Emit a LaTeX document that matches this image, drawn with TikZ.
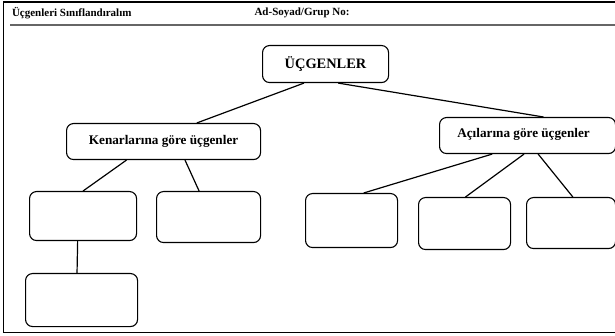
\documentclass[tikz,border=0pt]{standalone}
\usepackage{fontspec}
\setmainfont{Liberation Serif}
\usetikzlibrary{calc}
\begin{document}
\begin{tikzpicture}[x=1pt,y=-1pt,
  box/.style={draw=black, line width=1.1pt, rounded corners=7pt, fill=white,
    inner sep=0pt, anchor=north west},
  link/.style={draw=black, line width=1.2pt},
  lbl/.style={font=\bfseries\fontsize{13.2}{15}\selectfont},
  hdr/.style={anchor=west, font=\bfseries\fontsize{11}{13}\selectfont}]
\useasboundingbox (0,0) rectangle (615,336);
% outer frame (open on the right) and header rule
\draw[line width=1.8pt] (617,2) -- (3.5,2) -- (3.5,332.5) -- (617,332.5);
\draw[line width=1.8pt, gray!80!black] (10,25) -- (617,25);
\node[hdr] (hdr1) at (8.5,13) {Üçgenleri Sınıflandıralım};
\node[hdr] (hdr2) at (251,13) {Ad-Soyad/Grup No:};

% boxes: position is the north-west corner, size in pixels
\node[box, minimum width=126pt, minimum height=37pt] (root) at (262,45) {};
\node[lbl, font=\bfseries\fontsize{14.4}{16}\selectfont] at (root.center) {ÜÇGENLER};
\node[box, minimum width=194pt, minimum height=36pt] (ken) at (66,123) {};
\node[lbl] at ($(ken.center)+(0,0)$) {Kenarlarına göre üçgenler};
\node[box, minimum width=176pt, minimum height=36pt] (aci) at (439,117) {};
\node[lbl] at ($(aci.center)+(-4,-1)$) {Açılarına göre üçgenler};

\node[box, minimum width=107pt, minimum height=49pt] (k1) at (29,191) {};
\node[box, minimum width=104pt, minimum height=51pt] (k2) at (156,191) {};
\node[box, minimum width=112pt, minimum height=53pt] (k3) at (25,273) {};
\node[box, minimum width=92pt, minimum height=54pt] (a1) at (305,193) {};
\node[box, minimum width=92pt, minimum height=52pt] (a2) at (418,197) {};
\node[box, minimum width=89pt, minimum height=51pt] (a3) at (526,197) {};

% connectors
\draw[link] ($(root.south west)!0.33!(root.south east)$) -- ($(ken.north west)!0.67!(ken.north east)$);
\draw[link] ($(root.south west)!0.60!(root.south east)$) -- ($(aci.north west)!0.59!(aci.north east)$);
\draw[link] ($(ken.south west)!0.31!(ken.south east)$) -- ($(k1.north west)!0.50!(k1.north east)$);
\draw[link] ($(ken.south west)!0.61!(ken.south east)$) -- ($(k2.north west)!0.41!(k2.north east)$);
\draw[link] ($(k1.south west)!0.45!(k1.south east)$) -- ($(k3.north west)!0.46!(k3.north east)$);
\draw[link] ($(aci.south west)!0.30!(aci.south east)$) -- ($(a1.north west)!0.63!(a1.north east)$);
\draw[link] ($(aci.south west)!0.48!(aci.south east)$) -- ($(a2.north west)!0.51!(a2.north east)$);
\draw[link] ($(aci.south west)!0.56!(aci.south east)$) -- ($(a3.north west)!0.52!(a3.north east)$);
\end{tikzpicture}
\end{document}
